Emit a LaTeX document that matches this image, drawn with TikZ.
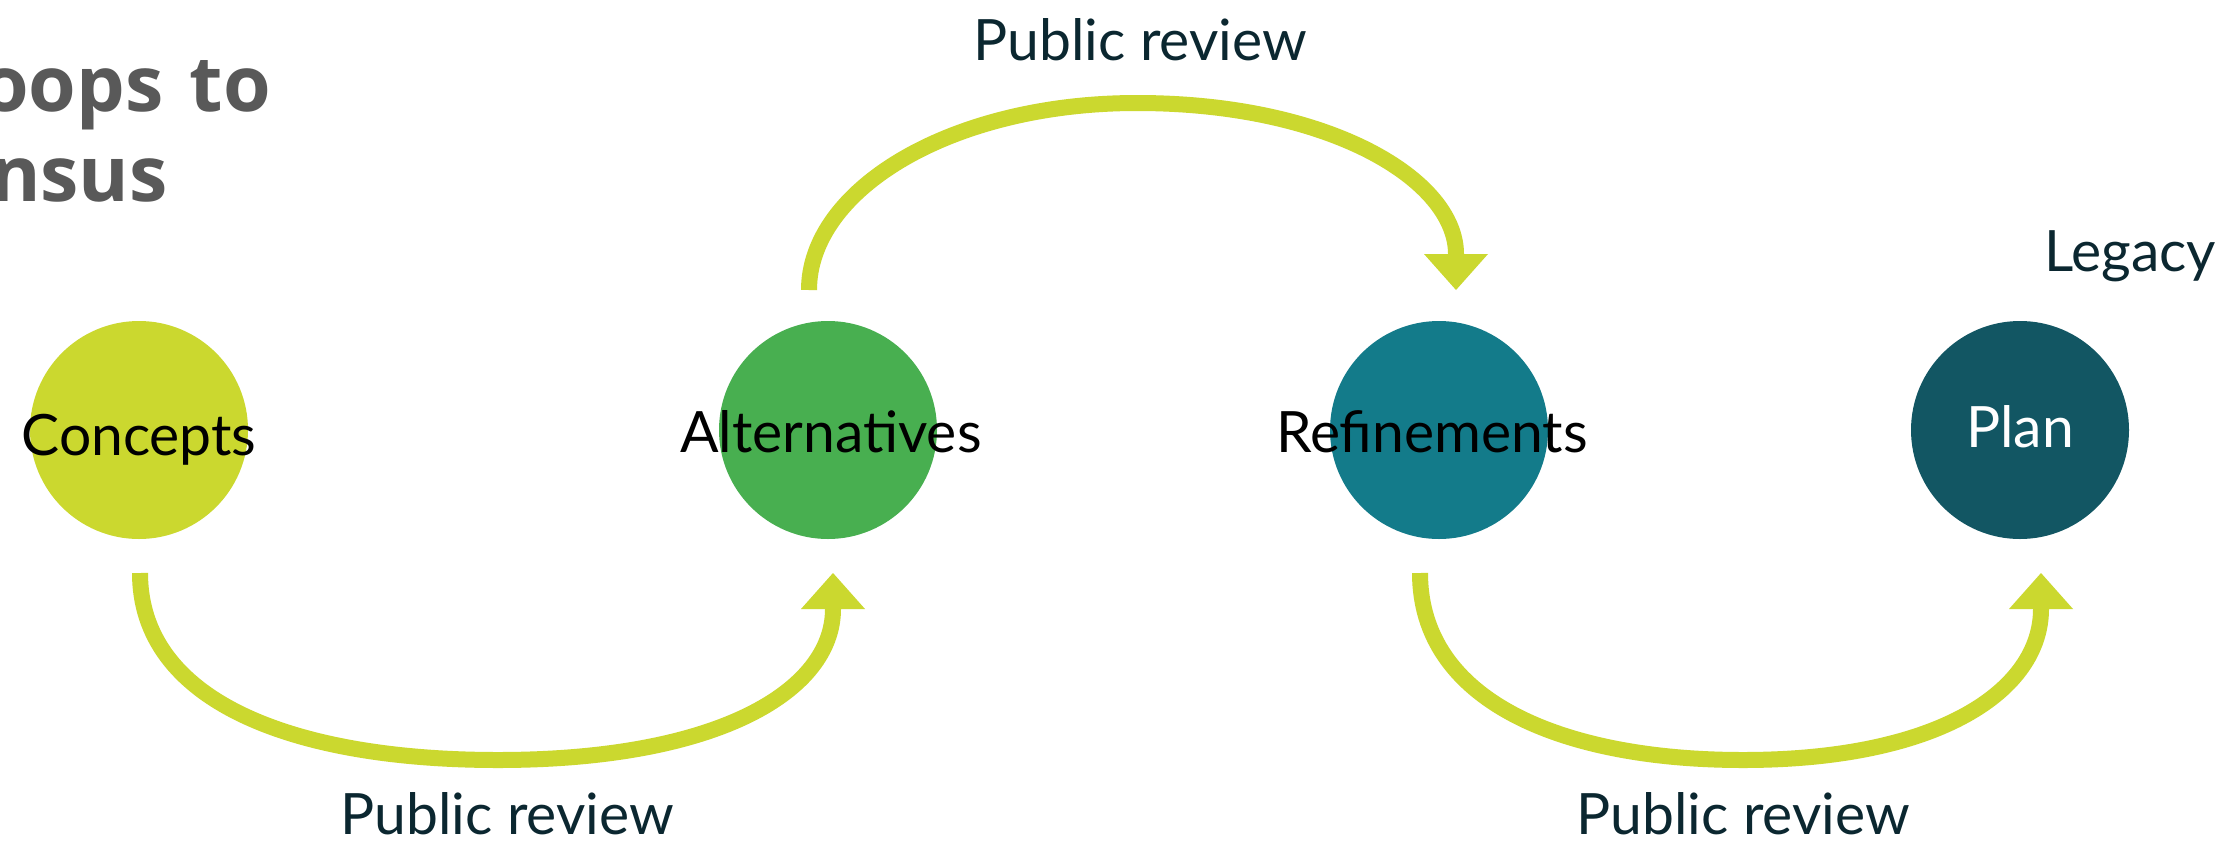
\documentclass[tikz,border=0pt]{standalone}
\usepackage{fontspec}
\setmainfont{Lato}
\newfontfamily\titlefont{Open Sans}
\usetikzlibrary{arrows.meta,calc}
\definecolor{lime}{HTML}{CBD82F}
\definecolor{altgreen}{HTML}{48AF50}
\definecolor{refteal}{HTML}{137B8A}
\definecolor{plandark}{HTML}{125663}
\definecolor{labeldark}{HTML}{0B2730}
\definecolor{titlegray}{HTML}{595959}
\tikzset{
  stage/.style={circle, minimum size=218pt, inner sep=0pt, draw=none},
  stagetext/.style={anchor=base, inner sep=0pt, font=\fontsize{57}{68}\selectfont},
  reviewtext/.style={anchor=base, inner sep=0pt, text=labeldark, font=\fontsize{57}{68}\selectfont},
  titletext/.style={anchor=base east, inner sep=0pt, text=titlegray, font=\titlefont\bfseries\fontsize{77}{90}\selectfont},
  loop/.style={draw=lime, line width=16pt, -{Triangle[length=36pt,width=64pt,line width=0pt]}},
}
\begin{document}
\begin{tikzpicture}[x=1pt,y=-1pt]
\useasboundingbox (0,0) rectangle (2230,844);
\fill[white] (0,0) rectangle (2230,844);

% title (cropped)
\node[titletext] (t1) at (271,111) {oops\hspace{0.08em} to};
\node[titletext] (t2) at (168,201) {nsus};

% stages
\node[stage, fill=lime] (con) at (139,430) {};
\node[stage, fill=altgreen] (alt) at (828,430) {};
\node[stage, fill=refteal] (ref) at (1439,430) {};
\node[stage, fill=plandark] (pla) at (2020,430) {};

\node[stagetext, text=black] (conl) at ($(con.center)+(0,25)$) {Concepts};
\node[stagetext, text=black] (altl) at ($(alt.center)+(3,22)$) {Alternatives};
\node[stagetext, text=black] (refl) at ($(ref.center)+(-7,22)$) {Refinements};
\node[stagetext, text=white] (plal) at ($(pla.center)+(0,17)$) {Plan};

\node[reviewtext] (legacy) at (2130,271) {Legacy};

% loops
\coordinate (a1) at ($(con.center)+(1,143)$);
\coordinate (a2) at ($(alt.center)+(5,143)$);
\draw[loop] (a1) .. controls ($(a1)+(0,127)$) and ($(a1)+(150,187)$) .. ($(a1)+(358,187)$)
  .. controls ($(a2)+(-113,187)$) and ($(a2)+(0,117)$) .. (a2);

\coordinate (b1) at ($(alt.center)+(-19,-140)$);
\coordinate (b2) at ($(ref.center)+(17,-140)$);
\draw[loop] (b1) .. controls ($(b1)+(0,-100)$) and ($(b1)+(141,-187)$) .. ($(b1)+(328,-187)$)
  .. controls ($(b2)+(-126,-187)$) and ($(b2)+(0,-110)$) .. (b2);

\coordinate (c1) at ($(ref.center)+(-19,143)$);
\coordinate (c2) at ($(pla.center)+(21,143)$);
\draw[loop] (c1) .. controls ($(c1)+(0,127)$) and ($(c1)+(140,187)$) .. ($(c1)+(323,187)$)
  .. controls ($(c2)+(-101,187)$) and ($(c2)+(0,117)$) .. (c2);

% review labels
\node[reviewtext] (r1) at (507,834) {Public review};
\node[reviewtext] (r2) at (1140,60) {Public review};
\node[reviewtext] (r3) at (1743,834) {Public review};
\end{tikzpicture}
\end{document}
